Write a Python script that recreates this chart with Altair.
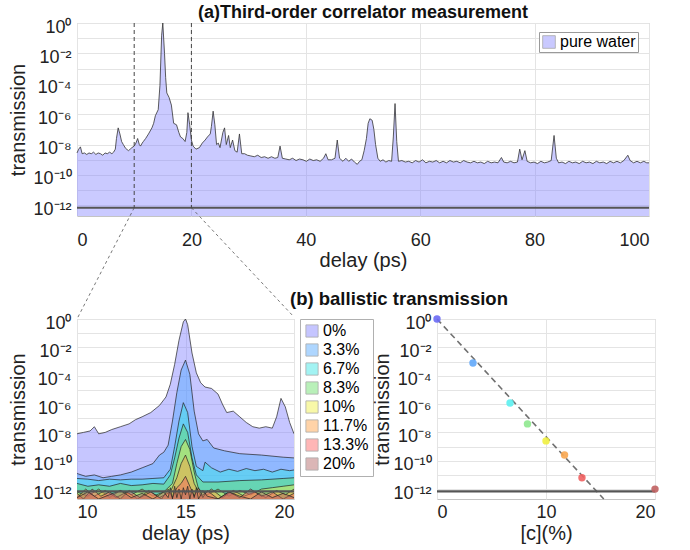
import altair as alt
import pandas as pd

# ---------------- data ----------------
# panel (a): pure water trace, delay (ps) and log10(transmission)
water_delay = [0.0,0.3,0.6,0.9,1.3,1.7,2.1,2.5,2.9,3.3,3.7,4.1,4.5,4.9,5.3,5.7,6.1,6.4,6.7,6.9,7.2,7.5,7.8,8.1,8.5,9.0,9.3,9.6,
               10.0,10.3,10.6,10.9,11.1,11.4,11.6,12.0,12.5,13.1,13.4,13.7,14.2,14.5,14.8,15.0,15.3,15.5,15.7,16.1,16.5,16.9,17.4,17.8,
               18.1,18.5,18.9,19.2,19.4,19.7,20.0,20.3,20.8,21.4,21.9,22.4,22.8,23.3,23.5,23.8,24.1,24.4,24.7,25.0,25.5,25.8,26.1,26.5,
               26.8,27.2,27.6,28.0,28.4,28.8,29.3,29.8,30.4,31.0,31.6,32.2,32.8,33.4,34.0,34.6,35.1,35.5,35.9,36.5,37.1,37.7,38.3,38.9,
               39.5,40.1,40.7,41.3,41.9,42.5,43.1,43.5,43.9,44.5,45.1,45.5,45.9,46.5,47.0,47.5,48.0,48.5,49.0,49.4,49.8,50.2,50.6,50.9,
               51.2,51.6,51.9,52.2,52.6,53.0,53.5,54.0,54.5,55.0,55.3,55.6,55.9,56.2,56.8,57.4,58.0,58.6,59.2,59.8,60.4,61.0,61.6,62.2,
               62.8,63.4,64.0,64.6,65.2,65.8,66.4,67.0,67.6,68.2,68.8,69.4,70.0,70.6,71.2,71.8,72.4,73.0,73.6,74.2,74.6,75.2,75.8,76.4,
               77.0,77.4,77.8,78.3,78.7,79.3,79.9,80.5,81.1,81.7,82.3,82.9,83.4,83.8,84.2,84.8,85.4,86.0,86.6,87.2,87.8,88.4,89.0,89.6,
               90.2,90.8,91.4,92.0,92.6,93.2,93.8,94.4,95.0,95.6,96.3,96.7,97.3,97.9,98.5,99.1,99.6,100.0]
water_log10 = [-8.55,-8.3,-8.15,-8.6,-8.55,-8.65,-8.55,-8.6,-8.5,-8.65,-8.55,-8.6,-8.7,-8.55,-8.6,-8.5,-8.6,-8.5,-8.3,-7.6,-6.9,-7.3,-7.8,-8.0,-8.25,-8.4,-8.3,-8.2,
               -8.1,-7.9,-7.6,-8.0,-8.1,-7.9,-7.8,-7.6,-7.3,-6.9,-6.6,-6.1,-5.7,-4.1,-0.8,0.0,-2.0,-3.6,-4.6,-4.9,-5.4,-6.6,-6.7,-7.2,
               -7.5,-7.6,-7.8,-7.2,-5.9,-6.7,-7.7,-8.1,-8.3,-8.2,-7.9,-7.7,-7.5,-7.3,-6.8,-5.8,-6.7,-8.0,-7.9,-8.2,-7.2,-6.9,-8.0,-7.4,
               -8.2,-7.7,-8.4,-8.5,-7.3,-8.6,-8.6,-8.7,-8.75,-8.8,-8.7,-8.85,-8.8,-8.9,-8.8,-8.9,-8.85,-8.1,-8.9,-8.95,-9.0,-8.9,-9.05,-8.95,
               -9.0,-9.1,-8.95,-9.05,-9.0,-9.1,-8.9,-8.6,-9.0,-9.0,-8.9,-7.7,-8.9,-9.1,-8.9,-9.1,-8.95,-9.15,-9.3,-9.1,-9.0,-8.4,-7.6,-6.6,
               -6.3,-6.4,-7.0,-8.0,-8.9,-9.1,-9.0,-9.15,-9.05,-9.1,-7.5,-5.3,-7.8,-9.1,-9.05,-9.15,-9.1,-9.2,-9.05,-9.15,-9.0,-9.2,-9.1,-9.15,
               -9.05,-9.2,-9.1,-9.2,-9.05,-9.15,-9.1,-9.2,-9.05,-9.15,-9.2,-9.1,-9.2,-9.15,-9.25,-9.1,-9.2,-9.15,-9.2,-8.85,-9.15,-9.2,-9.1,-9.2,
               -9.15,-8.3,-9.0,-8.4,-9.1,-9.2,-9.15,-9.25,-9.1,-9.2,-9.15,-9.05,-7.4,-8.9,-9.2,-9.15,-9.25,-9.1,-9.2,-9.15,-9.25,-9.1,-9.2,-9.15,
               -9.25,-9.1,-9.2,-9.15,-9.25,-9.1,-9.2,-9.1,-9.2,-9.05,-8.7,-9.05,-9.2,-9.1,-9.2,-9.1,-9.2,-9.2]

zoom_window = [10, 20]        # ps, marked by dashed lines
noise_floor = 7e-13           # horizontal floor line
T_MIN = 2e-13                 # bottom of the log axes

# panel (b) left: ballistic region for each concentration, (delay ps, log10 T)
conc_labels = ["0%", "3.3%", "6.7%", "8.3%", "10%", "11.7%", "13.3%", "20%"]
s_00 = [(10.0,-8.1),(10.3,-8.0),(10.6,-7.9),(10.8,-7.6),(11.0,-8.1),(11.3,-8.0),(11.6,-7.8),(12.0,-7.6),(12.4,-7.4),(12.7,-7.1),
        (13.0,-6.9),(13.4,-6.6),(13.8,-6.1),(14.0,-5.7),(14.1,-5.5),(14.3,-4.6),(14.5,-3.2),(14.7,-1.5),(14.9,-0.2),(15.0,0.0),
        (15.1,-0.4),(15.3,-2.4),(15.5,-3.8),(15.7,-4.5),(15.9,-4.8),(16.2,-4.9),(16.5,-5.3),(16.7,-6.0),(16.9,-6.6),(17.2,-6.5),
        (17.5,-6.9),(17.8,-7.3),(18.1,-7.6),(18.4,-7.7),(18.7,-7.6),(19.0,-7.7),(19.2,-6.9),(19.4,-5.6),(19.6,-6.2),(19.8,-7.3),(20.0,-8.1)]
s_33 = [(10.0,-10.9),(10.4,-11.1),(10.8,-11.0),(11.2,-11.2),(11.6,-11.1),(12.0,-11.0),(12.5,-10.8),(13.0,-10.5),(13.5,-10.2),
        (13.8,-9.6),(14.0,-9.4),(14.2,-8.9),(14.4,-7.2),(14.6,-5.2),(14.8,-3.6),(15.0,-2.9),(15.2,-3.9),(15.4,-6.5),(15.6,-8.1),
        (15.8,-8.6),(16.0,-8.5),(16.3,-9.1),(16.8,-9.3),(17.5,-9.5),(18.5,-9.6),(19.5,-9.75),(20.0,-9.8)]
s_67 = [(10.0,-11.25),(10.5,-11.3),(11.0,-11.4),(11.5,-11.3),(12.0,-11.35),(12.5,-11.3),(13.0,-11.3),(13.5,-11.25),(14.0,-11.2),
        (14.3,-10.6),(14.5,-9.0),(14.7,-7.2),(14.9,-5.9),(15.1,-6.6),(15.3,-9.0),(15.5,-10.4),(15.8,-10.7),(15.9,-10.1),(16.2,-10.5),
        (16.6,-10.8),(17.0,-10.6),(17.4,-10.75),(17.8,-10.55),(18.2,-10.7),(18.6,-10.6),(19.0,-10.8),(19.4,-10.6),(19.8,-10.7),(20.0,-10.65)]
s_83 = [(10.0,-11.6),(10.5,-11.8),(11.0,-11.7),(11.5,-11.8),(12.0,-11.6),(12.5,-11.75),(13.0,-11.7),(13.5,-11.6),(14.0,-11.65),
        (14.3,-11.0),(14.5,-9.8),(14.7,-8.4),(14.9,-7.4),(15.1,-8.0),(15.3,-9.8),(15.5,-11.0),(15.8,-11.5),(16.5,-11.5),(17.5,-11.4),
        (18.5,-11.35),(19.5,-11.25),(20.0,-11.2)]
s_100 = [(10.0,-12.2),(10.5,-12.5),(11.0,-12.0),(11.5,-12.6),(12.0,-12.1),(12.5,-12.4),(13.0,-12.0),(13.5,-12.5),(14.0,-12.2),
         (14.4,-11.6),(14.6,-10.2),(14.8,-9.0),(15.0,-8.5),(15.2,-9.2),(15.4,-10.8),(15.6,-12.0),(16.0,-12.4),(16.5,-12.0),
         (17.0,-12.5),(17.5,-12.1),(18.0,-12.4),(18.5,-12.0),(19.0,-11.9),(19.5,-11.8),(20.0,-11.7)]
s_117 = [(10.0,-12.6),(10.4,-12.0),(10.8,-12.5),(11.3,-12.1),(11.8,-12.6),(12.3,-12.2),(12.8,-12.7),(13.3,-12.1),(13.8,-12.6),
         (14.3,-12.2),(14.6,-11.2),(14.8,-10.2),(15.0,-9.6),(15.2,-10.4),(15.4,-11.6),(15.7,-12.5),(16.2,-12.0),(16.7,-12.6),
         (17.2,-12.1),(17.7,-12.5),(18.2,-12.2),(18.7,-12.6),(19.2,-12.1),(19.6,-12.4),(20.0,-12.0)]
s_133 = [(10.0,-12.3),(10.3,-12.7),(10.7,-12.0),(11.1,-12.5),(11.5,-12.2),(12.0,-12.7),(12.4,-12.1),(12.9,-12.6),(13.4,-12.2),
         (13.9,-12.7),(14.2,-12.0),(14.4,-12.6),(14.6,-11.9),(14.8,-11.6),(15.0,-11.1),(15.2,-11.8),(15.4,-12.5),(15.6,-11.9),
         (15.8,-12.6),(16.0,-12.1),(16.5,-12.7),(17.0,-12.2),(17.5,-12.6),(18.0,-12.0),(18.5,-12.5),(19.0,-12.2),(19.5,-12.7),(20.0,-12.3)]
s_200 = [(10.0,-12.6),(10.5,-12.2),(11.0,-12.7),(11.5,-12.4),(12.0,-12.1),(12.5,-12.6),(13.0,-12.3),(13.5,-12.7),(14.0,-12.2),
         (14.2,-12.6),(14.3,-11.9),(14.4,-12.7),(14.5,-11.8),(14.6,-12.6),(14.7,-12.0),(14.8,-12.7),(14.9,-11.9),(15.0,-12.4),
         (15.1,-11.8),(15.2,-12.7),(15.3,-12.0),(15.4,-12.6),(15.5,-11.9),(15.6,-12.7),(15.8,-12.1),(16.0,-12.5),(16.5,-12.7),
         (17.0,-12.2),(17.5,-12.5),(18.0,-12.7),(18.5,-12.2),(19.0,-12.6),(19.5,-12.3),(20.0,-12.6)]
series = [s_00, s_33, s_67, s_83, s_100, s_117, s_133, s_200]

area_colors = ["#8080ff", "#4da6ff", "#33e6e6", "#66e066", "#f0f040", "#ffa040", "#ff6060", "#b06060"]

# panel (b) right: ballistic transmission vs concentration
ballistic_conc = [0, 3.3, 6.7, 8.3, 10, 11.7, 13.3, 20]
ballistic_log10 = [0.0, -3.1, -5.93, -7.4, -8.6, -9.6, -11.2, -12.0]
point_colors = ["#6a6af5", "#62a8fa", "#5cefef", "#8fe88f", "#f0f040", "#f8a650", "#f06060", "#c06060"]
fit_conc = [0, 15.3]
fit_log10 = [0.0, -12.7]

# ---------------- helpers ----------------
SUP = str.maketrans("0123456789-", "⁰¹²³⁴⁵⁶⁷⁸⁹⁻")
def pow_label(k):
    return "10" + str(k).translate(SUP)
e_expr = "round(log(datum.value)/LN10)"
label_expr = " : ".join(f"{e_expr} == {k} ? '{pow_label(k)}'" for k in range(0, -13, -2)) + " : ''"
decades = [10.0 ** (-k) for k in range(0, 13)]

def yaxis(title="transmission", pad=4):
    return alt.Axis(values=decades, labelExpr=label_expr, title=title, labelPadding=6,
                    titlePadding=pad, labelOffset=4)

ysc = alt.Scale(type="log", domain=[T_MIN, 1], nice=False)

# ---------------- panel (a) ----------------
W_TOP, H_TOP = 572, 193
W_BL, W_BR, H_B = 217, 218, 180
V_GAP, H_GAP = 103, 143

top_df = pd.DataFrame({"delay": water_delay,
                       "T": [10.0 ** v for v in water_log10],
                       "series": "pure water"})
xa = alt.X("delay:Q", scale=alt.Scale(domain=[0, 100], nice=False),
           axis=alt.Axis(values=[0, 20, 40, 60, 80, 100], title="delay (ps)", labelPadding=15, titlePadding=1))
ya = alt.Y("T:Q", scale=ysc, axis=yaxis(), stack=None)

top_area = alt.Chart(top_df).mark_area(opacity=0.42).encode(
    x=xa, y=ya, y2=alt.datum(T_MIN),
    color=alt.Color("series:N", scale=alt.Scale(domain=["pure water"], range=["#8080ff"]),
                    legend=alt.Legend(title=None, orient="none", legendX=462, legendY=9,
                                      symbolType="square", symbolSize=160, symbolOpacity=0.42,
                                      symbolStrokeColor="#333", symbolStrokeWidth=0.8,
                                      labelFontSize=16, padding=2, labelOffset=3,
                                      strokeColor="#9a9a9a", fillColor="white"))
)
top_line = alt.Chart(top_df).mark_line(color="#333", strokeWidth=0.8).encode(x=xa, y=ya)
top_floor = alt.Chart(pd.DataFrame({"f": [noise_floor]})).mark_rule(color="#555", strokeWidth=2.2).encode(
    y=alt.Y("f:Q", scale=ysc, axis=yaxis()))
zoom_df = pd.DataFrame({"x": zoom_window})
top_vlines = alt.Chart(zoom_df).mark_rule(color="#444", strokeDash=[4, 3], strokeWidth=1).encode(
    x="x:Q", y=alt.datum(1.0), y2=alt.datum(noise_floor))
conn_left = alt.Chart(pd.DataFrame({"x": [zoom_window[0]]})).mark_rule(
    color="#555", strokeDash=[3, 3], strokeWidth=0.8).encode(
    x="x:Q", y=alt.datum(noise_floor), x2=alt.value(0), y2=alt.value(H_TOP + V_GAP))
conn_right = alt.Chart(pd.DataFrame({"x": [zoom_window[1]]})).mark_rule(
    color="#555", strokeDash=[3, 3], strokeWidth=0.8).encode(
    x="x:Q", y=alt.datum(noise_floor), x2=alt.value(W_BL), y2=alt.value(H_TOP + V_GAP - 2))

top = alt.layer(top_area, top_line, top_floor, top_vlines, conn_left, conn_right).properties(
    width=W_TOP, height=H_TOP,
    title=alt.TitleParams("(a)Third-order correlator measurement", offset=-4, frame="group"))

# ---------------- panel (b) left ----------------
xb = alt.X("delay:Q", scale=alt.Scale(domain=[10, 20], nice=False),
           axis=alt.Axis(values=[10, 15, 20], title="delay (ps)", labelPadding=4, titlePadding=2))
yb = alt.Y("T:Q", scale=ysc, axis=yaxis(), stack=None)
color_b = alt.Color("conc:N", scale=alt.Scale(domain=conc_labels, range=area_colors),
                    legend=alt.Legend(title=None, orient="none", legendX=W_BL + 6, legendY=0,
                                      symbolType="square", symbolSize=150, symbolOpacity=0.45,
                                      symbolStrokeColor="#444", symbolStrokeWidth=0.8,
                                      labelFontSize=16, rowPadding=3, padding=4, labelOffset=3,
                                      strokeColor="#b0b0b0", fillColor="white"))
bl_layers = []
for lab, pts in zip(conc_labels, series):
    df = pd.DataFrame({"delay": [p[0] for p in pts], "T": [10.0 ** p[1] for p in pts], "conc": lab})
    bl_layers.append(alt.Chart(df).mark_area(opacity=0.45, clip=True).encode(
        x=xb, y=yb, y2=alt.datum(T_MIN), color=color_b))
    bl_layers.append(alt.Chart(df).mark_line(color="#222", strokeWidth=0.7, clip=True).encode(x=xb, y=yb))
bl_floor = alt.Chart(pd.DataFrame({"f": [noise_floor]})).mark_rule(color="#555", strokeWidth=2.2).encode(
    y=alt.Y("f:Q", scale=ysc, axis=yaxis()))
bl = alt.layer(*bl_layers, bl_floor).properties(width=W_BL, height=H_B)

# ---------------- panel (b) right ----------------
xc = alt.X("c:Q", scale=alt.Scale(domain=[0, 20], nice=False),
           axis=alt.Axis(values=[0, 10, 20], title="[c](%)", labelPadding=4, titlePadding=2))
yc = alt.Y("T:Q", scale=ysc, axis=yaxis(pad=0))
pts_df = pd.DataFrame({"c": ballistic_conc, "T": [10.0 ** v for v in ballistic_log10], "col": point_colors})
fit_df = pd.DataFrame({"c": fit_conc, "T": [10.0 ** v for v in fit_log10]})
br_fit = alt.Chart(fit_df).mark_line(color="#707070", strokeDash=[6, 4], strokeWidth=1.6).encode(x=xc, y=yc)
br_floor = alt.Chart(pd.DataFrame({"f": [noise_floor]})).mark_rule(color="#555", strokeWidth=2.2).encode(
    y=alt.Y("f:Q", scale=ysc, axis=yaxis(pad=0)))
br_pts = alt.Chart(pts_df).mark_circle(size=55, opacity=0.9).encode(
    x=xc, y=yc, color=alt.Color("col:N", scale=None))
br = alt.layer(br_fit, br_floor, br_pts).properties(
    width=W_BR, height=H_B,
    title=alt.TitleParams("(b) ballistic transmission", anchor="start", dx=-147, offset=6,
                          frame="group", fontSize=18.5))

bottom = alt.hconcat(bl, br, spacing=H_GAP, bounds="flush").resolve_scale(color="independent")
chart = alt.vconcat(top, bottom, spacing=V_GAP, bounds="flush").resolve_scale(
    color="independent"
).properties(
    padding={"left": 8, "top": 3, "right": 5, "bottom": 5}
).configure(
    font="Liberation Sans"
).configure_axis(
    labelFontSize=18, titleFontSize=20, labelColor="#222", titleColor="#222",
    titleFontWeight="normal", gridColor="#e4e4e4", gridWidth=1, domain=False, ticks=False
).configure_view(
    stroke="#c4c4c4"
).configure_title(
    fontSize=18, fontWeight="bold", color="#111", font="Liberation Sans"
)

chart.save("out.html", embed_options={"renderer": "svg", "actions": False})
